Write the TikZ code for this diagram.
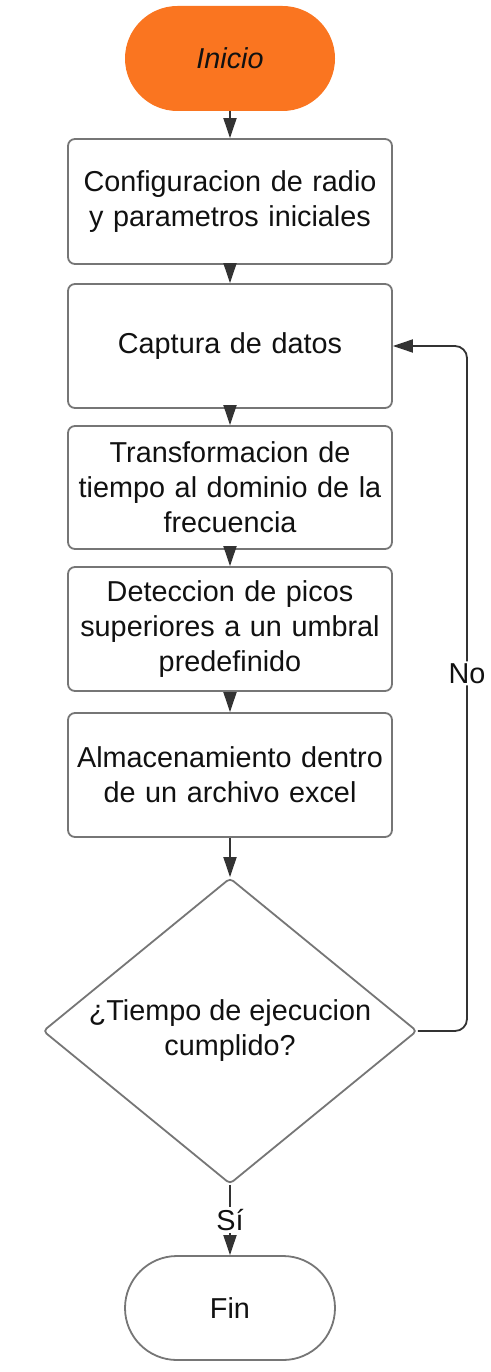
\documentclass[tikz,border=0pt]{standalone}
\usepackage{fontspec}
\setmainfont{Liberation Sans}
\usetikzlibrary{shapes.geometric,shapes.misc,arrows.meta}
\definecolor{orng}{RGB}{250,117,32}
\definecolor{bordergray}{RGB}{118,118,118}
\definecolor{linegray}{RGB}{51,51,51}
\definecolor{txt}{RGB}{17,17,17}
\begin{document}
\begin{tikzpicture}[x=1pt,y=-1pt,
  font=\fontsize{28.8}{35}\selectfont, text=txt,
  procbox/.style={draw=bordergray, line width=1.8pt, fill=white, rounded corners=7pt,
    minimum width=324pt, text width=318pt, align=center, inner sep=0pt},
  term/.style={rounded rectangle, minimum width=210pt, minimum height=105pt, inner sep=0pt},
  decision/.style={diamond, draw=bordergray, line width=1.8pt, fill=white,
    minimum width=374pt, minimum height=306pt, aspect=1.22, inner sep=0pt,
    rounded corners=4pt, align=center},
  conn/.style={draw=linegray, line width=1.8pt, -{Triangle[length=20pt,width=13pt]}},
  lbl/.style={fill=white, inner sep=2pt}]
\useasboundingbox (0,0) rectangle (490,1372);

\node[term, fill=orng] (ini) at (230,58.5) {\itshape Inicio};
\node[procbox, minimum height=125pt] (b1) at (230,201.5) {Configuracion de radio\\y parametros iniciales};
\node[procbox, minimum height=124pt] (b2) at (230,346) {Captura de datos};
\node[procbox, minimum height=123pt] (b3) at (230,487.5) {Transformacion de\\tiempo al dominio de la\\frecuencia};
\node[procbox, minimum height=124pt] (b4) at (230,629) {Deteccion de picos\\superiores a un umbral\\predefinido};
\node[procbox, minimum height=124pt] (b5) at (230,775) {Almacenamiento dentro\\de un archivo excel};
\node[decision] (dec) at (230,1031) {¿Tiempo de ejecucion\\cumplido?};
\node[term, draw=bordergray, line width=1.8pt, fill=white, minimum height=104pt] (fin) at (230,1308) {Fin};
\coordinate (loopx) at (467,0);

\draw[conn] (ini.south) -- (b1.north);
\draw[conn] (b1.south) -- (b2.north);
\draw[conn] (b2.south) -- (b3.north);
\draw[conn] (b3.south) -- (b4.north);
\draw[conn] (b4.south) -- (b5.north);
\draw[conn] (b5.south) -- (dec.north);
\draw[conn] (dec.south) -- node[lbl] {Sí} (fin.north);
\draw[conn, rounded corners=12pt] (dec.east) -| node[lbl, pos=0.761] {No} (b2.east -| loopx) -- (b2.east);
\end{tikzpicture}
\end{document}
